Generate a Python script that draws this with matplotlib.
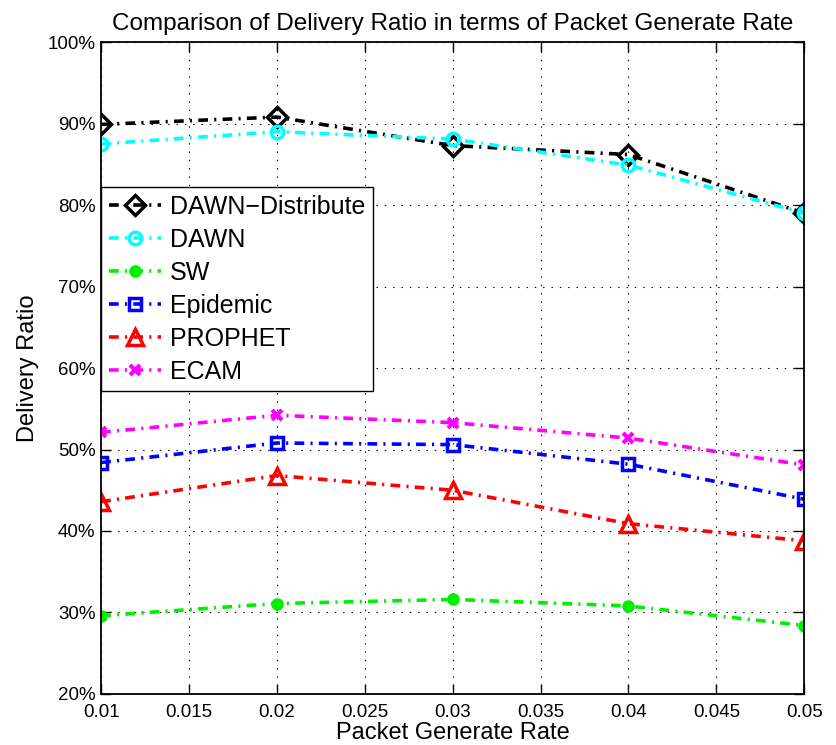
import numpy as np
import matplotlib
matplotlib.use("Agg")
import matplotlib.pyplot as plt
from matplotlib.ticker import FuncFormatter

plt.rcParams.update({
    "font.family": ["Liberation Sans", "DejaVu Sans"],
    "lines.scale_dashes": False,
    "axes.linewidth": 1.3,
})

# packet generate rate
rates = [0.01, 0.02, 0.03, 0.04, 0.05]

# delivery ratio (%) per protocol
dawn_distribute = [89.9, 90.8, 87.3, 86.2, 79.0]
dawn = [87.5, 89.0, 88.1, 84.9, 79.0]
sw = [29.6, 31.1, 31.6, 30.8, 28.4]
epidemic = [48.4, 50.8, 50.6, 48.2, 43.9]
prophet = [43.6, 46.8, 45.0, 40.9, 38.8]
ecam = [52.1, 54.2, 53.3, 51.4, 48.1]

labels = ["DAWN\u2212Distribute", "DAWN", "SW", "Epidemic", "PROPHET", "ECAM"]

dash = (7, 4.5, 1.5, 4.5)

fig = plt.figure(figsize=(8.36, 7.45), dpi=100)
ax = fig.add_axes([0.121, 0.0685, 0.841, 0.875])

ax.plot(rates, dawn_distribute, color="black", lw=2.6, dashes=dash,
        marker="D", ms=10, mfc="none", mec="black", mew=2.5, label=labels[0])
ax.plot(rates, dawn, color="cyan", lw=2.6, dashes=dash,
        marker="o", ms=9, mfc="none", mec="cyan", mew=2.5, label=labels[1])
ax.plot(rates, sw, color="#00ee00", lw=2.6, dashes=dash,
        marker="o", ms=8, mfc="#00ee00", mec="#00ee00", label=labels[2])
ax.plot(rates, epidemic, color="blue", lw=2.6, dashes=dash,
        marker="s", ms=8, mfc="none", mec="blue", mew=2.5, label=labels[3])
ax.plot(rates, prophet, color="red", lw=2.6, dashes=dash,
        marker="^", ms=12, mfc="none", mec="red", mew=2.5, label=labels[4])
ax.plot(rates, ecam, color="magenta", lw=2.6, dashes=dash,
        marker="x", ms=7, mec="magenta", mew=3, label=labels[5])

ax.set_xlim(0.01, 0.05)
ax.set_ylim(20, 100)
ax.set_xticks(np.arange(0.01, 0.0501, 0.005))
ax.set_yticks(np.arange(20, 101, 10))
ax.xaxis.set_major_formatter(FuncFormatter(lambda v, p: ("%.3f" % v).rstrip("0")))
ax.yaxis.set_major_formatter(FuncFormatter(lambda v, p: "%d%%" % v))
ax.tick_params(direction="in", top=True, right=True, labelsize=13.5,
               length=7, width=1.0, pad=4)
ax.tick_params(axis="x", pad=7)
ax.grid(True, linestyle=(0, (1, 5)), color="black", linewidth=0.8)

ax.set_title("Comparison of Delivery Ratio in terms of Packet Generate Rate",
             fontsize=17.5, pad=9)
ax.set_xlabel("Packet Generate Rate", fontsize=17, labelpad=1)
ax.set_ylabel("Delivery Ratio", fontsize=17, labelpad=6)

leg = ax.legend(loc="upper left", bbox_to_anchor=(0.0, 0.777), fontsize=18,
                fancybox=False, framealpha=1, edgecolor="black",
                handlelength=2.1, handletextpad=0.35, borderaxespad=0,
                labelspacing=0.36, borderpad=0.3)
leg.get_frame().set_linewidth(1.0)

plt.savefig("out.png", dpi=100)
plt.close(fig)
